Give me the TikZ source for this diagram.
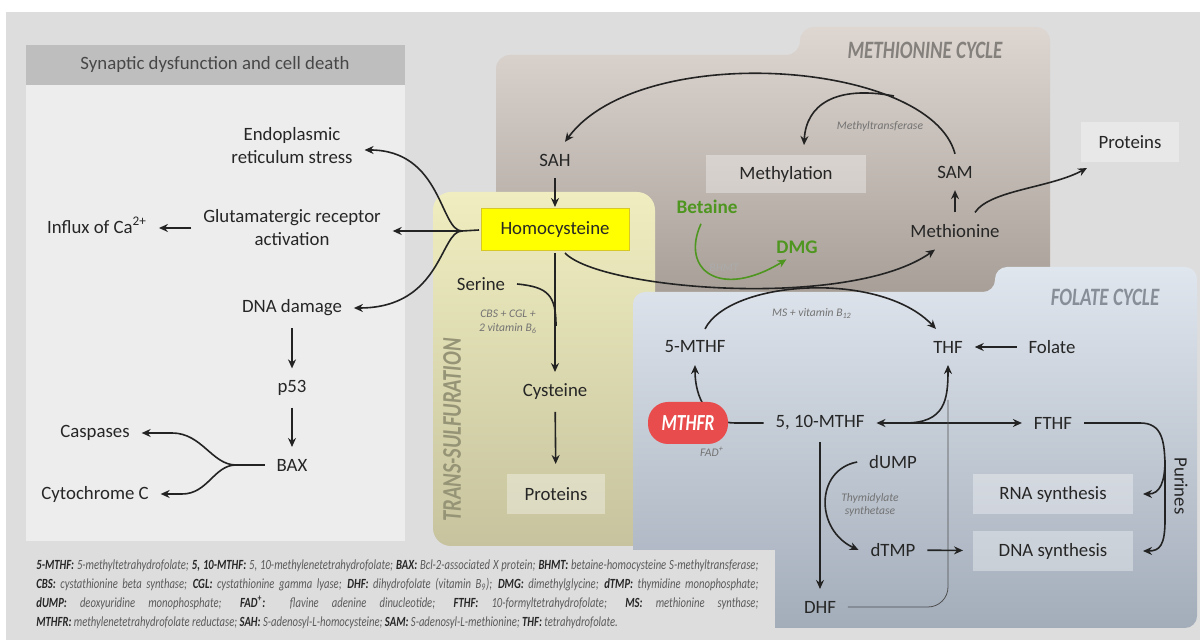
\documentclass[tikz,border=0pt]{standalone}
\usepackage{fontspec}
\setmainfont{Carlito}
\newfontfamily\condfont[FakeStretch=0.76]{Carlito}
\usepackage{xcolor}
\definecolor{txt}{RGB}{38,38,38}
\definecolor{linec}{RGB}{35,35,35}
\definecolor{outergray}{RGB}{221,221,221}
\definecolor{headgray}{RGB}{190,190,190}
\definecolor{panelgray}{RGB}{237,237,237}
\definecolor{mettop}{RGB}{222,214,209}
\definecolor{metbot}{RGB}{166,158,150}
\definecolor{tstop}{RGB}{240,238,192}
\definecolor{tsbot}{RGB}{198,195,158}
\definecolor{foltop}{RGB}{224,230,238}
\definecolor{folbot}{RGB}{163,173,186}
\definecolor{hcyyellow}{RGB}{255,255,0}
\definecolor{hcyline}{RGB}{215,200,40}
\definecolor{mthfrred}{RGB}{232,76,76}
\definecolor{bhmtgreen}{RGB}{78,150,32}
\definecolor{titlegray}{RGB}{132,128,124}
\definecolor{tsgray}{RGB}{150,148,118}
\definecolor{folgray}{RGB}{136,142,151}
\definecolor{enzgray}{RGB}{115,115,115}
\definecolor{fngray}{RGB}{90,90,90}
\usepackage{tikz}
\usetikzlibrary{arrows.meta}
\newcommand{\fnterm}[1]{\textbf{\textcolor{txt}{#1}}}

\begin{document}
\begin{tikzpicture}[x=0.5pt,y=-0.5pt,
lbl/.style={font=\fontsize{9.4}{11.5}\selectfont,text=txt,align=center,inner sep=2pt,outer sep=4pt},
enz/.style={font=\itshape\fontsize{5.8}{6.8}\selectfont,text=enzgray,align=center,inner sep=1pt},
paneltitle/.style={font=\condfont\bfseries\itshape\fontsize{12.5}{14}\selectfont,text=titlegray,inner sep=0pt},
box/.style={lbl,fill=white,fill opacity=0.35,text opacity=1,minimum height=20pt,outer sep=5pt},
grn/.style={font=\bfseries\fontsize{9.6}{11}\selectfont,text=bhmtgreen,inner sep=2pt,outer sep=3pt},
fnote/.style={font=\condfont\itshape\fontsize{7}{9.5}\selectfont,text=fngray,text width=361pt,align=justify,inner sep=0pt},
arr/.style={-{Stealth[length=4.5pt,width=4pt]},line width=0.8pt,draw=linec},
darr/.style={arr,{Stealth[length=4.5pt,width=4pt]}-{Stealth[length=4.5pt,width=4pt]}},
garr/.style={arr,draw=bhmtgreen},
link/.style={line width=0.8pt,draw=linec},
hair/.style={line width=0.4pt,draw=linec!80}]
\useasboundingbox (0,0) rectangle (1200,640);
\fill[white] (0,0) rectangle (1200,640);
\fill[outergray] (6,12) rectangle (1200,640);
\fill[headgray] (26,45) rectangle (405,85);
\fill[panelgray] (26,85) rectangle (405,541);
\shade[top color=mettop,bottom color=metbot,rounded corners=7pt] (496,300) -- (496,55) -- (800,55) -- (800,27) -- (1050,27) -- (1050,300) -- cycle;
\shade[top color=tstop,bottom color=tsbot,rounded corners=9pt] (433,192) rectangle (655,546);
\shade[top color=foltop,bottom color=folbot,rounded corners=6pt] (633,628) -- (633,292) -- (995,292) -- (995,267) -- (1197,267) -- (1197,628) -- cycle;
\fill[outergray] (6,550) rectangle (775,640);

\node[lbl,text=txt!85] (hdr) at (215,64) {Synaptic dysfunction and cell death};
\node[paneltitle] (mettitle) at (925,50) {METHIONINE CYCLE};
\node[paneltitle,text=tsgray,font=\condfont\bfseries\itshape\fontsize{13.5}{15}\selectfont,rotate=90] (tstitle) at (452,430) {TRANS-SULFURATION};
\node[paneltitle,text=folgray] (foltitle) at (1105,297) {FOLATE CYCLE};

\node[lbl] (ers) at (292,146) {Endoplasmic\\reticulum stress};
\node[lbl] (gra) at (292,228) {Glutamatergic receptor\\activation};
\node[lbl] (ca) at (97,225) {Influx of Ca\textsuperscript{2+}};
\node[lbl] (dna) at (292,308) {DNA damage};
\node[lbl] (p53) at (292,388) {p53};
\node[lbl] (bax) at (292,465) {BAX};
\node[lbl] (casp) at (95,433) {Caspases};
\node[lbl] (cyt) at (95,494) {Cytochrome C};

\node[lbl] (sah) at (555,160) {SAH};
\node[lbl,fill=hcyyellow,draw=hcyline,line width=0.5pt,minimum width=74pt,minimum height=21pt,outer sep=1pt] (hcy) at (555,230) {Homocysteine};
\node[box,minimum width=80pt,minimum height=19pt] (methyl) at (786,174) {Methylation};
\node[lbl] (sam) at (955,172) {SAM};
\node[lbl] (met) at (955,231) {Methionine};
\node[box,minimum width=49pt] (protm) at (1130,142) {Proteins};
\node[grn] (bet) at (707,207) {Betaine};
\node[grn] (dmg) at (797,247) {DMG};
\node[enz] (mtase) at (880,126) {Methyltransferase};
\node[enz,text=enzgray!60] (bhmt) at (724,268) {BHMT};

\node[lbl] (ser) at (481,284) {Serine};
\node[enz] (cbs) at (508,322) {CBS + CGL +\\2 vitamin B\textsubscript{6}};
\node[lbl] (cys) at (555,392) {Cysteine};
\node[box,minimum width=49pt] (prott) at (556,494) {Proteins};

\node[lbl] (fmthf) at (695,347) {5-MTHF};
\node[lbl] (thf) at (948,347) {THF};
\node[lbl] (fol) at (1052,347) {Folate};
\node[enz] (ms) at (812,314) {MS + vitamin B\textsubscript{12}};
\node[lbl] (mthf) at (820,423) {5, 10-MTHF};
\node[lbl] (fthf) at (1053,423) {FTHF};
\node[enz] (fad) at (712,452) {FAD\textsuperscript{+}};
\node[lbl] (dump) at (893,462) {dUMP};
\node[enz] (tys) at (870,505) {Thymidylate\\synthetase};
\node[lbl] (dtmp) at (893,550) {dTMP};
\node[lbl] (dhf) at (820,607) {DHF};
\node[box,minimum width=80pt] (rna) at (1053,494) {RNA synthesis};
\node[box,minimum width=80pt] (dnas) at (1053,551) {DNA synthesis};
\node[lbl,rotate=-90] (pur) at (1181,486) {Purines};

\coordinate (hj) at (462,231);
\draw[link] (hcy.west) -- (hj);
\draw[arr] (hj) .. controls (440,231) and (442,150) .. ([yshift=-2pt]ers.east);
\draw[arr] (hj) -- (gra.east |- hj);
\draw[arr] (hj) .. controls (440,231) and (442,308) .. (dna.east);
\draw[arr] (gra.west) -- (gra.west -| ca.east);
\draw[arr] (dna) -- (p53);
\draw[arr] (p53) -- (bax);
\coordinate (bj) at (236,465);
\draw[link] (bax.west) -- (bj);
\draw[arr] (bj) .. controls (212,465) and (202,433) .. (172,433) -- (casp.east);
\draw[arr] (bj) .. controls (214,465) and (208,494) .. (182,494) -- (cyt.east);

\coordinate (mtj) at (894,96);
\draw[arr] (sam.north) .. controls (930,60) and (640,40) .. ([xshift=5pt]sah.north);
\draw[arr] (mtj) .. controls (835,85) and (806,105) .. ([xshift=9pt]methyl.north);
\draw[arr] (sah) -- (hcy);
\draw[arr] (met) -- (sam);
\draw[arr] ([xshift=10pt]met.north) .. controls (990,190) and (1050,188) .. ([xshift=8pt,yshift=2pt]protm.south west);
\draw[garr] ([xshift=-3pt]bet.south) .. controls (680,270) and (720,300) .. ([xshift=10pt,yshift=2pt]dmg.south west);
\draw[arr] ([xshift=5pt]hcy.south) .. controls (600,290) and (850,310) .. ([xshift=-10pt]met.south);

\coordinate (serj) at (556,326);
\draw[link] (ser.east) .. controls (548,287) and (556,295) .. (serj);
\draw[arr] (hcy) -- (cys);
\draw[arr] (cys) -- (prott);

\draw[arr] ([xshift=5pt]fmthf.north) .. controls (730,280) and (880,270) .. ([xshift=-6pt]thf.north);
\draw[arr] (fol) -- (thf);
\draw[darr] (mthf) -- (fthf);
\coordinate (tj) at (905,423);
\draw[arr] (tj) .. controls (945,423) and (948,400) .. (thf.south);
\draw[arr] (mthf.west) -- (735,423) .. controls (708,423) and (695,398) .. (fmthf.south);
\coordinate (dj) at (948,400);
\draw[hair,rounded corners=10pt] (dhf.east) -| (dj);
\draw[arr] (mthf) -- (dhf);
\draw[arr] (dump.west) .. controls (815,470) and (815,530) .. (dtmp.west);
\draw[arr] (dtmp) -- (dnas);
\coordinate (pj) at (1165,460);
\draw[arr] (fthf.east) -- (1140,423) .. controls (1162,423) and (1165,440) .. (1165,470) -- (1165,520) .. controls (1165,545) and (1160,551) .. (dnas.east);
\draw[arr] (pj) .. controls (1165,482) and (1160,494) .. (rna.east);

\node[fill=mthfrred,rounded corners=10pt,minimum width=40pt,minimum height=21pt,text=white,font=\condfont\bfseries\itshape\fontsize{11.5}{12}\selectfont] (mthfr) at (688,423) {MTHFR};

\node[fnote,anchor=north west] (fn) at (36,559) {\fnterm{5-MTHF:} 5-methyltetrahydrofolate; \fnterm{5, 10-MTHF:} 5, 10-methylenetetrahydrofolate; \fnterm{BAX:} Bcl-2-associated X protein; \fnterm{BHMT:} betaine-homocysteine S-methyltransferase;\linebreak
\fnterm{CBS:} cystathionine beta synthase; \fnterm{CGL:} cystathionine gamma lyase; \fnterm{DHF:} dihydrofolate (vitamin B\textsubscript{9}); \fnterm{DMG:} dimethylglycine; \fnterm{dTMP:} thymidine monophosphate;\linebreak
\fnterm{dUMP:} deoxyuridine monophosphate; \fnterm{FAD\textsuperscript{+}:} flavine adenine dinucleotide; \fnterm{FTHF:} 10-formyltetrahydrofolate; \fnterm{MS:} methionine synthase;\linebreak
\fnterm{MTHFR:} methylenetetrahydrofolate reductase; \fnterm{SAH:} S-adenosyl-L-homocysteine; \fnterm{SAM:} S-adenosyl-L-methionine; \fnterm{THF:} tetrahydrofolate.};
\end{tikzpicture}
\end{document}
